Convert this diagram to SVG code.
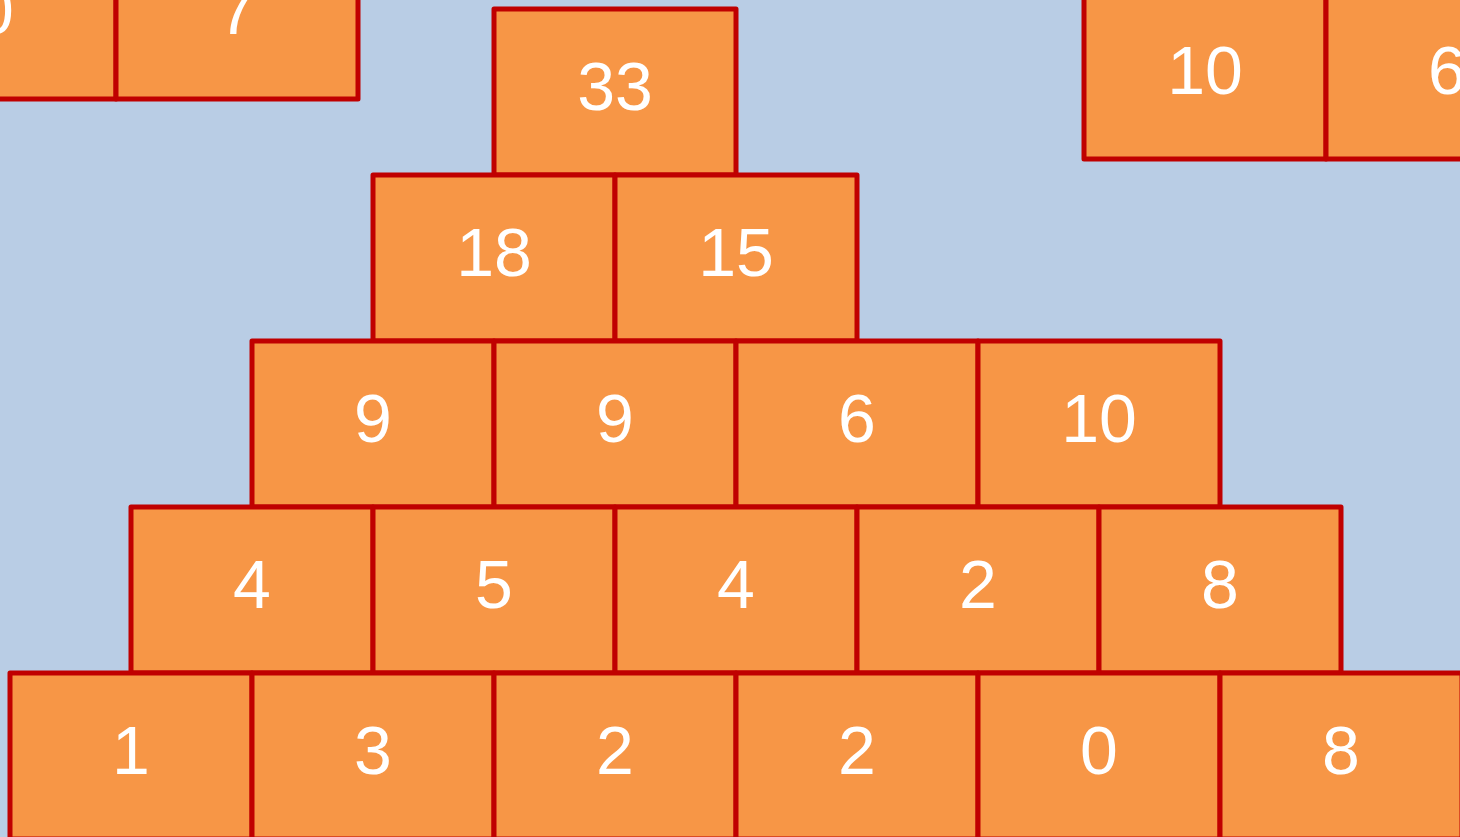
<svg xmlns="http://www.w3.org/2000/svg" width="1460" height="837" viewBox="0 0 1460 837">
<style>
.c rect{fill:#f79646;stroke:#c00000;stroke-width:5;stroke-linejoin:round}
.c text{fill:#ffffff;font-family:"Liberation Sans",Arial,sans-serif;font-size:68px;text-anchor:middle}
</style>
<rect width="1460" height="837" fill="#b9cde5"/>
<g class="c">
<g id="tl1"><rect x="-126" y="-67" width="242" height="166"/><text x="-5" y="34">0</text></g>
<g id="tl2"><rect x="116" y="-67" width="242" height="166"/><text x="237" y="34">7</text></g>
<g id="tr1"><rect x="1084" y="-7" width="242" height="166"/><text x="1205" y="94">10</text></g>
<g id="tr2"><rect x="1326" y="-7" width="242" height="166"/><text x="1447" y="94">6</text></g>
<g id="r1c1"><rect x="494" y="9" width="242" height="166"/><text x="615" y="110">33</text></g>
<g id="r2c1"><rect x="373" y="175" width="242" height="166"/><text x="494" y="276">18</text></g>
<g id="r2c2"><rect x="615" y="175" width="242" height="166"/><text x="736" y="276">15</text></g>
<g id="r3c1"><rect x="252" y="341" width="242" height="166"/><text x="373" y="442">9</text></g>
<g id="r3c2"><rect x="494" y="341" width="242" height="166"/><text x="615" y="442">9</text></g>
<g id="r3c3"><rect x="736" y="341" width="242" height="166"/><text x="857" y="442">6</text></g>
<g id="r3c4"><rect x="978" y="341" width="242" height="166"/><text x="1099" y="442">10</text></g>
<g id="r4c1"><rect x="131" y="507" width="242" height="166"/><text x="252" y="608">4</text></g>
<g id="r4c2"><rect x="373" y="507" width="242" height="166"/><text x="494" y="608">5</text></g>
<g id="r4c3"><rect x="615" y="507" width="242" height="166"/><text x="736" y="608">4</text></g>
<g id="r4c4"><rect x="857" y="507" width="242" height="166"/><text x="978" y="608">2</text></g>
<g id="r4c5"><rect x="1099" y="507" width="242" height="166"/><text x="1220" y="608">8</text></g>
<g id="r5c1"><rect x="10" y="673" width="242" height="166"/><text x="131" y="774">1</text></g>
<g id="r5c2"><rect x="252" y="673" width="242" height="166"/><text x="373" y="774">3</text></g>
<g id="r5c3"><rect x="494" y="673" width="242" height="166"/><text x="615" y="774">2</text></g>
<g id="r5c4"><rect x="736" y="673" width="242" height="166"/><text x="857" y="774">2</text></g>
<g id="r5c5"><rect x="978" y="673" width="242" height="166"/><text x="1099" y="774">0</text></g>
<g id="r5c6"><rect x="1220" y="673" width="242" height="166"/><text x="1341" y="774">8</text></g>
</g>
<g id="connectors"/>
</svg>
